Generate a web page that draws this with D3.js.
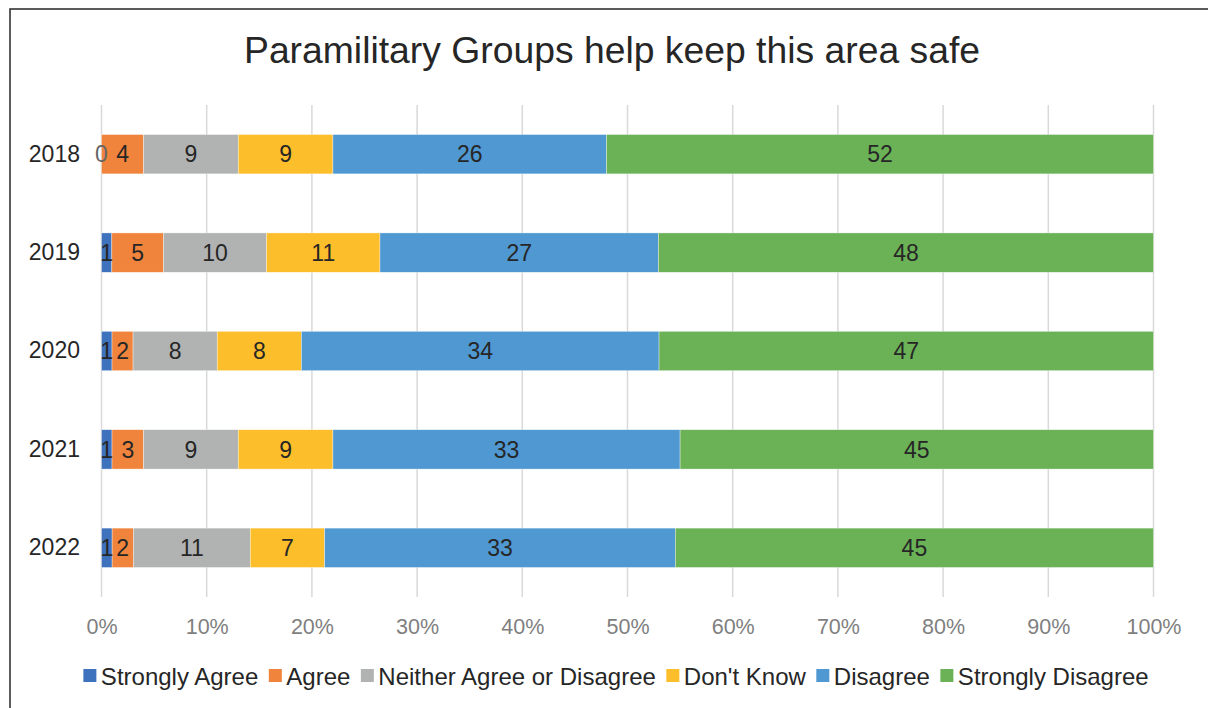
<!DOCTYPE html>
<html>
<head>
<meta charset="utf-8">
<script src="https://cdn.jsdelivr.net/npm/d3@7"></script>
<style>
html,body{margin:0;padding:0;background:#fff;}
svg{display:block;font-family:"Liberation Sans",Arial,sans-serif;}
</style>
</head>
<body>
<svg id="chart" width="1208" height="708"></svg>
<script>
const title = "Paramilitary Groups help keep this area safe";
const years = ["2018","2019","2020","2021","2022"];
const seriesNames = ["Strongly Agree","Agree","Neither Agree or Disagree","Don't Know","Disagree","Strongly Disagree"];
const seriesColors = ["#3F72BC","#F0843C","#B1B3B3","#FDBE2B","#4F98D1","#6BB257"];
const stronglyAgree = [0,1,1,1,1];
const agree = [4,5,2,3,2];
const neither = [9,10,8,9,11];
const dontKnow = [9,11,8,9,7];
const disagree = [26,27,34,33,33];
const stronglyDisagree = [52,48,47,45,45];
const xTicks = [0,0.1,0.2,0.3,0.4,0.5,0.6,0.7,0.8,0.9,1];

const seriesValues = [stronglyAgree, agree, neither, dontKnow, disagree, stronglyDisagree];
const rows = years.map((y,i)=>{
  const r = {year:y};
  seriesNames.forEach((s,j)=>{ r[s] = seriesValues[j][i]; });
  return r;
});

const svg = d3.select("#chart");
// frame
svg.append("rect").attr("x",10).attr("y",9).attr("width",1220).attr("height",720)
  .attr("fill","none").attr("stroke","#262626").attr("stroke-width",1.5);

const x = d3.scaleLinear().domain([0,1]).range([101.5,1153.5]);
const y = d3.scaleBand().domain(years).range([105,597]).paddingInner(0.6).paddingOuter(0.3);

// gridlines
svg.append("g").selectAll("line").data(xTicks).join("line")
  .attr("x1",d=>x(d)).attr("x2",d=>x(d)).attr("y1",105).attr("y2",597)
  .attr("stroke","#D9D9D9").attr("stroke-width",1.5);

const stack = d3.stack().keys(seriesNames).offset(d3.stackOffsetExpand);
const layers = stack(rows);

const g = svg.append("g");
layers.forEach((layer,j)=>{
  g.append("g").selectAll("rect").data(layer).join("rect")
    .attr("x",d=>x(d[0])).attr("width",d=>Math.max(0,x(d[1])-x(d[0])))
    .attr("y",d=>y(d.data.year)).attr("height",y.bandwidth())
    .attr("fill",seriesColors[j]).attr("stroke","#fff").attr("stroke-width",0.6).attr("stroke-opacity",0.6);
});
layers.forEach((layer,j)=>{
  g.append("g").selectAll("text").data(layer).join("text")
    .attr("x",d=>(x(d[0])+x(d[1]))/2).attr("y",d=>y(d.data.year)+y.bandwidth()/2)
    .attr("dy","0.36em").attr("text-anchor","middle")
    .attr("font-size",23).attr("fill", d=> d.data[seriesNames[j]]===0 ? "#666" : "#262626")
    .text(d=>d.data[seriesNames[j]]);
});

// y axis labels
const yAxis = d3.axisLeft(y).tickSize(0).tickPadding(0);
const ya = svg.append("g").attr("transform","translate(80,0)").call(yAxis);
ya.select(".domain").remove();
ya.selectAll("text").attr("font-size",23).attr("fill","#262626").attr("font-family","Liberation Sans, Arial, sans-serif");

// x axis
const xAxis = d3.axisBottom(x).tickValues(xTicks).tickFormat(d3.format(".0%")).tickSize(0).tickPadding(0);
const xa = svg.append("g").attr("transform","translate(0,619)").call(xAxis);
xa.select(".domain").remove();
xa.selectAll("text").attr("font-size",21.5).attr("fill","#7F7F7F").attr("font-family","Liberation Sans, Arial, sans-serif");

// title
svg.append("text").attr("x",612).attr("y",63).attr("text-anchor","middle")
  .attr("font-size",37).attr("fill","#262626").attr("textLength",736).attr("lengthAdjust","spacingAndGlyphs")
  .text(title);

// legend
const leg = svg.append("g");
const items = leg.selectAll("g").data(seriesNames).join("g");
items.append("rect").attr("width",13).attr("height",13).attr("y",-7).attr("fill",(d,i)=>seriesColors[i]);
items.append("text").attr("x",17.5).attr("dy","0.36em").attr("font-size",24).attr("fill","#262626").text(d=>d);
let cx = 0; const pos=[];
items.each(function(d){
  const w = this.querySelector("text").getComputedTextLength();
  pos.push(cx); cx += 17.5 + w + 10.5;
});
const total = cx - 10.5;
const start = 616 - total/2;
items.attr("transform",(d,i)=>`translate(${start+pos[i]},676)`);
</script>
</body>
</html>
